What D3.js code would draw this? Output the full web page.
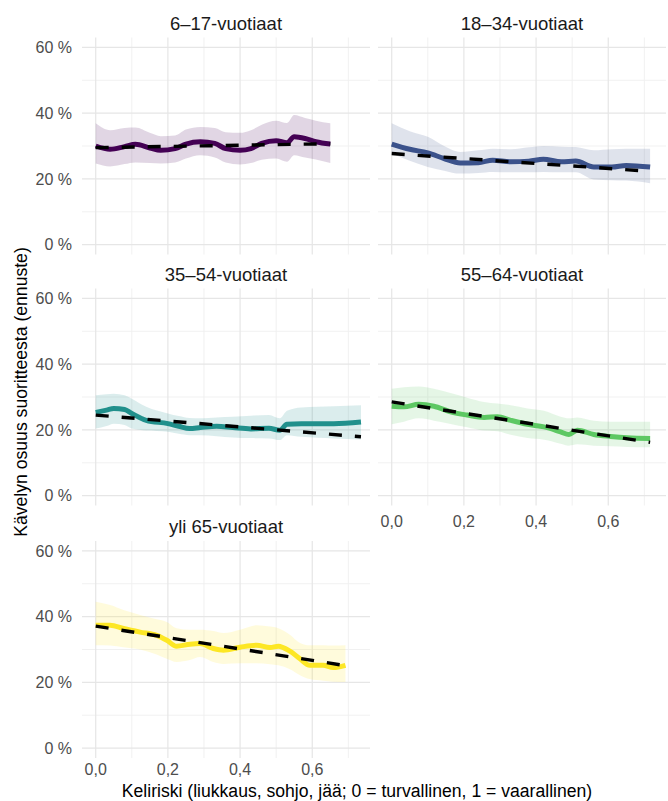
<!DOCTYPE html>
<html>
<head>
<meta charset="utf-8">
<script src="https://cdn.jsdelivr.net/npm/d3@7"></script>
<style>
  html, body { margin: 0; padding: 0; background: #ffffff; }
  svg { display: block; font-family: "Liberation Sans", Arial, sans-serif; }
</style>
</head>
<body>
<svg id="chart" width="668" height="801"></svg>
<script>
// Age groups (facet order) and their viridis colours
const groups = ["6–17-vuotiaat", "18–34-vuotiaat", "35–54-vuotiaat", "55–64-vuotiaat", "yli 65-vuotiaat"];
const colors = ["#440154", "#3b528b", "#21908c", "#5dc863", "#fde725"];

// Smoothed prediction per group: x = keliriski, mid = estimate, lo/hi = interval
const x1   = [0, 0.04, 0.08, 0.11, 0.15, 0.18, 0.22, 0.25, 0.29, 0.33, 0.36, 0.40, 0.43, 0.46, 0.50, 0.53, 0.55, 0.58, 0.61, 0.65];
const mid1 = [0.300, 0.290, 0.298, 0.305, 0.294, 0.287, 0.292, 0.306, 0.313, 0.308, 0.292, 0.287, 0.292, 0.308, 0.316, 0.310, 0.328, 0.323, 0.313, 0.306];
const hi1  = [0.369, 0.348, 0.355, 0.356, 0.340, 0.330, 0.332, 0.350, 0.358, 0.355, 0.342, 0.340, 0.348, 0.365, 0.377, 0.370, 0.394, 0.385, 0.377, 0.369];
const lo1  = [0.247, 0.238, 0.245, 0.250, 0.248, 0.247, 0.250, 0.262, 0.272, 0.265, 0.250, 0.244, 0.248, 0.258, 0.262, 0.252, 0.272, 0.265, 0.259, 0.248];

const x2   = [0, 0.05, 0.10, 0.145, 0.19, 0.24, 0.28, 0.33, 0.38, 0.42, 0.47, 0.51, 0.56, 0.61, 0.65, 0.716];
const mid2 = [0.306, 0.290, 0.279, 0.262, 0.248, 0.249, 0.257, 0.252, 0.254, 0.260, 0.252, 0.254, 0.236, 0.236, 0.241, 0.236];
const hi2  = [0.369, 0.345, 0.328, 0.300, 0.282, 0.287, 0.292, 0.290, 0.296, 0.300, 0.298, 0.297, 0.287, 0.290, 0.292, 0.292];
const lo2  = [0.277, 0.255, 0.236, 0.225, 0.216, 0.218, 0.221, 0.220, 0.220, 0.221, 0.220, 0.220, 0.198, 0.196, 0.195, 0.187];

const x3   = [0, 0.03, 0.05, 0.08, 0.10, 0.14, 0.20, 0.23, 0.26, 0.29, 0.335, 0.38, 0.43, 0.48, 0.51, 0.53, 0.57, 0.66, 0.735];
const mid3 = [0.253, 0.260, 0.265, 0.262, 0.250, 0.229, 0.219, 0.211, 0.204, 0.207, 0.211, 0.207, 0.203, 0.205, 0.199, 0.217, 0.219, 0.219, 0.224];
const hi3  = [0.305, 0.308, 0.310, 0.305, 0.295, 0.270, 0.250, 0.242, 0.236, 0.235, 0.238, 0.240, 0.243, 0.245, 0.235, 0.258, 0.268, 0.272, 0.275];
const lo3  = [0.204, 0.212, 0.219, 0.215, 0.204, 0.198, 0.194, 0.188, 0.184, 0.184, 0.181, 0.177, 0.175, 0.174, 0.169, 0.184, 0.179, 0.174, 0.171];

const x4   = [0, 0.034, 0.075, 0.117, 0.163, 0.209, 0.256, 0.293, 0.33, 0.376, 0.422, 0.468, 0.491, 0.514, 0.56, 0.607, 0.653, 0.716];
const mid4 = [0.272, 0.270, 0.278, 0.272, 0.255, 0.245, 0.238, 0.240, 0.229, 0.217, 0.209, 0.194, 0.186, 0.199, 0.186, 0.180, 0.176, 0.174];
const hi4  = [0.325, 0.330, 0.332, 0.325, 0.312, 0.298, 0.285, 0.280, 0.275, 0.265, 0.258, 0.240, 0.235, 0.238, 0.228, 0.225, 0.225, 0.225];
const lo4  = [0.217, 0.225, 0.235, 0.228, 0.218, 0.208, 0.198, 0.196, 0.185, 0.175, 0.170, 0.158, 0.152, 0.156, 0.152, 0.150, 0.148, 0.147];

const x5   = [0, 0.04, 0.077, 0.123, 0.169, 0.197, 0.224, 0.261, 0.289, 0.326, 0.354, 0.40, 0.446, 0.483, 0.506, 0.538, 0.566, 0.593, 0.63, 0.658, 0.692];
const mid5 = [0.374, 0.374, 0.364, 0.353, 0.343, 0.328, 0.310, 0.316, 0.318, 0.303, 0.298, 0.307, 0.313, 0.306, 0.310, 0.295, 0.272, 0.252, 0.252, 0.245, 0.252];
const hi5  = [0.445, 0.435, 0.420, 0.405, 0.392, 0.384, 0.365, 0.360, 0.360, 0.356, 0.350, 0.360, 0.374, 0.370, 0.365, 0.345, 0.320, 0.313, 0.313, 0.312, 0.313];
const lo5  = [0.313, 0.312, 0.307, 0.300, 0.285, 0.272, 0.262, 0.268, 0.277, 0.262, 0.256, 0.258, 0.258, 0.255, 0.252, 0.240, 0.222, 0.210, 0.205, 0.202, 0.201];

// Linear trend (dashed) per group: endpoints
const trendX = [[0, 0.65], [0, 0.716], [0, 0.735], [0, 0.716], [0, 0.692]];
const trendY = [[0.295, 0.307], [0.277, 0.223], [0.245, 0.179], [0.285, 0.162], [0.371, 0.251]];

// Axis ticks
const xMajor = [0, 0.2, 0.4, 0.6];
const xMinor = [0.1, 0.3, 0.5, 0.7];
const xTickLabels = ["0,0", "0,2", "0,4", "0,6"];
const yMajor = [0, 0.2, 0.4, 0.6];
const yMinor = [0.1, 0.3, 0.5];
const yTickLabels = ["0 %", "20 %", "40 %", "60 %"];

const xTitle = "Keliriski (liukkaus, sohjo, jää; 0 = turvallinen, 1 = vaarallinen)";
const yTitle = "Kävelyn osuus suoritteesta (ennuste)";

const seriesX = [x1, x2, x3, x4, x5];
const seriesMid = [mid1, mid2, mid3, mid4, mid5];
const seriesHi = [hi1, hi2, hi3, hi4, hi5];
const seriesLo = [lo1, lo2, lo3, lo4, lo5];

// Facet layout
const panelW = 288, panelH = 217;
const colLeft = [82, 378];
const rowTop = [37.5, 288.5, 541];
const xLabelGap = [0, 21, 17];

const x = d3.scaleLinear().domain([-0.038, 0.76]).range([0, panelW]);
const y = d3.scaleLinear().domain([-0.03, 0.63]).range([panelH, 0]);

const svg = d3.select("#chart");

const area = d3.area()
  .x(d => x(d.x)).y0(d => y(d.lo)).y1(d => y(d.hi))
  .curve(d3.curveMonotoneX);
const line = d3.line()
  .x(d => x(d.x)).y(d => y(d.v))
  .curve(d3.curveMonotoneX);
const straight = d3.line().x(d => x(d.x)).y(d => y(d.v));

groups.forEach((name, i) => {
  const col = i % 2, row = Math.floor(i / 2);
  const g = svg.append("g").attr("transform", `translate(${colLeft[col]},${rowTop[row]})`);

  // grid
  const grid = g.append("g");
  grid.selectAll(".ymin").data(yMinor).join("line")
    .attr("x1", 0).attr("x2", panelW).attr("y1", d => y(d)).attr("y2", d => y(d))
    .attr("stroke", "#efefef").attr("stroke-width", 0.9);
  grid.selectAll(".xmin").data(xMinor).join("line")
    .attr("y1", 0).attr("y2", panelH).attr("x1", d => x(d)).attr("x2", d => x(d))
    .attr("stroke", "#efefef").attr("stroke-width", 0.9);
  grid.selectAll(".ymaj").data(yMajor).join("line")
    .attr("x1", 0).attr("x2", panelW).attr("y1", d => y(d)).attr("y2", d => y(d))
    .attr("stroke", "#e6e6e6").attr("stroke-width", 1.2);
  grid.selectAll(".xmaj").data(xMajor).join("line")
    .attr("y1", 0).attr("y2", panelH).attr("x1", d => x(d)).attr("x2", d => x(d))
    .attr("stroke", "#e6e6e6").attr("stroke-width", 1.2);

  // ribbon + smoothed line
  const pts = seriesX[i].map((xv, k) => ({ x: xv, v: seriesMid[i][k], lo: seriesLo[i][k], hi: seriesHi[i][k] }));
  g.append("path").attr("d", area(pts)).attr("fill", colors[i]).attr("fill-opacity", 0.16);
  g.append("path").attr("d", line(pts)).attr("fill", "none")
    .attr("stroke", colors[i]).attr("stroke-width", 5).attr("stroke-linejoin", "round");

  // linear trend
  const tr = trendX[i].map((xv, k) => ({ x: xv, v: trendY[i][k] }));
  g.append("path").attr("d", straight(tr)).attr("fill", "none")
    .attr("stroke", "#000").attr("stroke-width", 3.4).attr("stroke-dasharray", "13,13");

  // strip title
  g.append("text").attr("x", panelW / 2).attr("y", -8)
    .attr("text-anchor", "middle").attr("font-size", 18.5).attr("fill", "#1a1a1a").text(name);

  // y tick labels on left column
  if (col === 0) {
    g.selectAll(".ytl").data(yMajor).join("text")
      .attr("x", 72 - colLeft[0]).attr("y", d => y(d)).attr("dy", "0.36em")
      .attr("text-anchor", "end").attr("font-size", 16).attr("fill", "#4d4d4d")
      .text((d, k) => yTickLabels[k]);
  }
  // x tick labels under bottom panel of each column
  if (i === 3 || i === 4) {
    g.selectAll(".xtl").data(xMajor).join("text")
      .attr("x", d => x(d)).attr("y", panelH + xLabelGap[row])
      .attr("text-anchor", "middle").attr("font-size", 16).attr("fill", "#4d4d4d")
      .text((d, k) => xTickLabels[k]);
  }
});

// axis titles
svg.append("text").attr("x", 357).attr("y", 797)
  .attr("text-anchor", "middle").attr("font-size", 17.6).attr("fill", "#000").text(xTitle);
svg.append("text").attr("transform", "translate(27,392) rotate(-90)")
  .attr("text-anchor", "middle").attr("font-size", 17.6).attr("fill", "#000").text(yTitle);
</script>
</body>
</html>
